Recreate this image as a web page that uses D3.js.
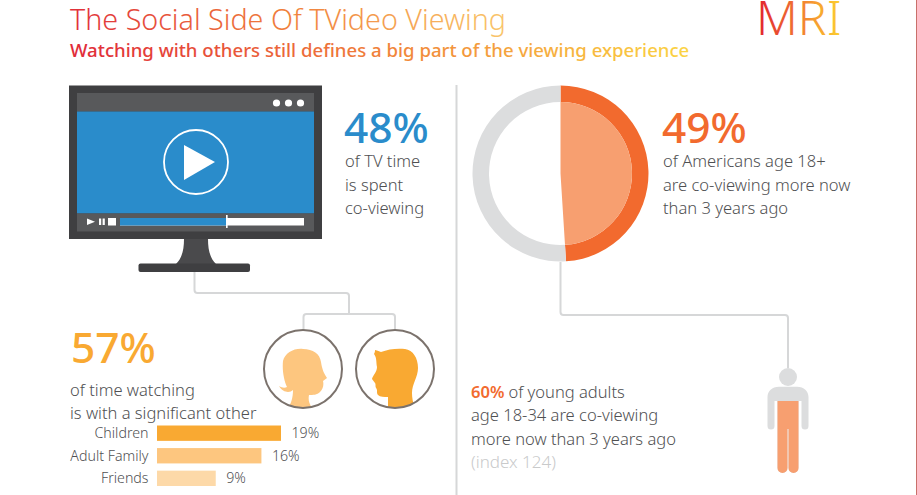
<!DOCTYPE html>
<html>
<head>
<meta charset="utf-8">
<script src="https://cdn.jsdelivr.net/npm/d3@7.9.0/dist/d3.min.js"></script>
<style>
html, body { margin: 0; padding: 0; background: #fff; }
svg { display: block; }
text { font-family: "Noto Sans", sans-serif; }
</style>
</head>
<body>
<script>
// values
const categories = ["Children", "Adult Family", "Friends"];
const shares = [19, 16, 9];
const barColors = ["#f9a932", "#fdc67f", "#fdd9a8"];
const tvTime = 48;
const significantOther = 57;
const coViewing = 49;
const youngAdults = 60;

const titleText = "The Social Side Of TVideo Viewing";
const subtitleText = "Watching with others still defines a big part of the viewing experience";
const tvLines = ["of TV time", "is spent", "co-viewing"];
const otherLines = ["of time watching", "is with a significant other"];
const americansLines = ["of Americans age 18+", "are co-viewing more now", "than 3 years ago"];
const youngLines = ["age 18-34 are co-viewing", "more now than 3 years ago"];

const grey = "#4f5052";
const line = "#d6d7d8";

let svg = d3.select("body")
    .append("svg")
    .attr("width", 917)
    .attr("height", 495);

let defs = svg.append("defs");

function addGradient(id, x1, x2, stops) {
    let g = defs.append("linearGradient")
        .attr("id", id)
        .attr("gradientUnits", "userSpaceOnUse")
        .attr("x1", x1).attr("x2", x2)
        .attr("y1", 0).attr("y2", 0);
    stops.forEach((s, i) => {
        g.append("stop")
            .attr("offset", i / (stops.length - 1))
            .attr("stop-color", s);
    });
}
addGradient("titleFill", 70, 506, ["#e0303a", "#f07f3c", "#f9c56b"]);
addGradient("subFill", 70, 690, ["#e02a38", "#f0813a", "#fbd444"]);
addGradient("logoFill", 759, 843, ["#e2262f", "#f27f32", "#fdd52f"]);

function label(x, y, txt, size, fill, weight) {
    return svg.append("text")
        .attr("x", x).attr("y", y)
        .attr("font-size", size)
        .attr("font-weight", weight || 400)
        .attr("fill", fill)
        .text(txt);
}

// heading
label(70, 30, titleText, 28.7, "url(#titleFill)", 300);
label(70, 57, subtitleText, 18.6, "url(#subFill)", 500);
label(756, 35, "MRI", 48, "url(#logoFill)", 300);

// connector lines and the divider
function connector(d) {
    svg.append("path")
        .attr("d", d)
        .attr("fill", "none")
        .attr("stroke", line)
        .attr("stroke-width", 2);
}
connector("M456.5,85V495");
connector("M194.5,272V290a3,3 0 0 0 3,3H346a3,3 0 0 1 3,3V313");
connector("M303.5,331V317a3,3 0 0 1 3,-3H392a3,3 0 0 1 3,3V331");
connector("M560.5,262V312a3,3 0 0 0 3,3H785a3,3 0 0 1 3,3V368");

// television
let tv = svg.append("g");
function box(x, y, w, h, fill, r) {
    return tv.append("rect")
        .attr("x", x).attr("y", y)
        .attr("width", w).attr("height", h)
        .attr("rx", r || 0)
        .attr("fill", fill);
}
tv.append("path")
    .attr("d", "M184,239H208C208,250 210,258 216,264H176C182,258 184,250 184,239Z")
    .attr("fill", "#4a4a4c");
box(138.5, 263.5, 111.5, 8.5, "#3f3f41", 2);
box(69, 85.5, 253, 153.5, "#3f3f41");
box(77, 93, 237, 18.5, "#58595b");
box(77, 111.5, 237, 102, "#2a8ccb");
box(77, 213.5, 237, 18, "#58595b");
[276.5, 288.5, 300.5].forEach(cx => {
    tv.append("circle").attr("cx", cx).attr("cy", 103).attr("r", 3.6).attr("fill", "#fff");
});
tv.append("circle")
    .attr("cx", 196).attr("cy", 162).attr("r", 32)
    .attr("fill", "none").attr("stroke", "#fff").attr("stroke-width", 1.8);
tv.append("path").attr("d", "M184,145L215,162L184,180Z").attr("fill", "#fff");
tv.append("path").attr("d", "M87,218.5L95,221.7L87,225Z").attr("fill", "#fff");
box(99, 218.5, 2.2, 6.5, "#fff");
box(102.6, 218.5, 2.2, 6.5, "#fff");
box(108, 218, 8, 7.5, "#fff");

let progress = d3.scaleLinear().domain([0, 100]).range([120, 304]);
box(progress(0), 218, progress(100) - progress(0), 7.5, "#fff");
box(progress(0), 218, progress(58) - progress(0), 7.5, "#2a8ccb");
box(progress(58) - 0.7, 215, 1.6, 13, "#fff");

// text blocks
function block(x, lines, firstY, step) {
    lines.forEach((t, i) => {
        label(x, firstY + i * step, t, 16.55, grey, 300);
    });
}
label(344, 143, tvTime + "%", 42.5, "#2a8ccb", 500);
block(345, tvLines, 167, 23.5);

label(71, 362.5, significantOther + "%", 42.5, "#f9a932", 500);
block(70, otherLines, 395.5, 23.5);

label(662, 143, coViewing + "%", 42.5, "#f26a2e", 500);
block(663, americansLines, 167, 23.5);

let young = label(471, 397.5, youngAdults + "%", 16.55, "#f26a2e", 600);
young.append("tspan")
    .attr("dx", 4)
    .attr("fill", grey)
    .attr("font-weight", 300)
    .text("of young adults");
block(471, youngLines, 421, 23.5);
label(471, 468, "(index 124)", 17, "#c9cacb", 300);

// share bars
let x = d3.scaleLinear().domain([0, 19]).range([157, 281]);
let y = d3.scaleBand()
    .domain(categories)
    .range([425.5, 486])
    .paddingInner(0.32)
    .paddingOuter(0);

svg.append("g")
    .selectAll("rect")
    .data(shares)
    .join("rect")
    .attr("x", x(0))
    .attr("y", (d, i) => y(categories[i]))
    .attr("width", d => x(d) - x(0))
    .attr("height", y.bandwidth())
    .attr("fill", (d, i) => barColors[i]);

svg.append("g")
    .selectAll("text")
    .data(categories)
    .join("text")
    .attr("x", 148.5)
    .attr("y", d => y(d) + y.bandwidth() / 2 + 5)
    .attr("text-anchor", "end")
    .attr("font-size", 14.2)
    .attr("font-weight", 300)
    .attr("fill", grey)
    .text(d => d);

svg.append("g")
    .selectAll("text")
    .data(shares)
    .join("text")
    .attr("x", d => x(d) + 10.5)
    .attr("y", (d, i) => y(categories[i]) + y.bandwidth() / 2 + 5)
    .attr("font-size", 14.2)
    .attr("font-weight", 300)
    .attr("fill", grey)
    .text(d => d + "%");

// heads
function head(id, cx, d, fill) {
    defs.append("clipPath").attr("id", id)
        .append("circle").attr("cx", cx).attr("cy", 369).attr("r", 39);
    svg.append("path")
        .attr("d", d)
        .attr("fill", fill)
        .attr("clip-path", "url(#" + id + ")");
    svg.append("circle")
        .attr("cx", cx).attr("cy", 369).attr("r", 39)
        .attr("fill", "none")
        .attr("stroke", "#7b726c")
        .attr("stroke-width", 2);
}
head("herClip", 303,
    "M288,410C290,404 293,400 293,390C290,393 283,393 279,386C282,388 285,388 287,387C284,381 282,370 283,361C285,353 294,348 303,349C313,349 320,354 321,362C322,368 323,372 327,378L323,381C324,385 323,389 320,392C317,395 313,395 309,395C308,400 309,405 314,410Z",
    "#fdc67f");
head("hisClip", 395,
    "M388,410V397C384,397 380,397 378,395C376,393 378,390 376,388C375,386 376,384 375,383L372,379C373,375 377,372 377,367C376,362 377,358 374,354C375,352 375,351 375,350C378,351 379,351 381,352C388,349 398,348 405,349C413,350 418,358 418,368C418,377 412,384 412,393C412,398 413,404 416,410Z",
    "#f9a932");

// donut
let pie = d3.pie().sort(null).value(d => d);
let slices = pie([coViewing, 100 - coViewing]);
let ringOuter = d3.arc().innerRadius(71.5).outerRadius(88);
let fullInner = d3.arc().innerRadius(0).outerRadius(71.5);

let donut = svg.append("g").attr("transform", "translate(560.5,173.5)");
donut.selectAll("path.ring")
    .data(slices)
    .join("path")
    .attr("class", "ring")
    .attr("d", ringOuter)
    .attr("fill", (d, i) => i === 0 ? "#f26a2e" : "#dcddde");
donut.append("path")
    .attr("d", fullInner(slices[0]))
    .attr("fill", "#f79f70");

// person, orange up to the share of young adults
const personShape = "M779,386.7H797C804,386.7 808.5,391 808.5,397V426a3.5,3.5 0 0 1 -7,0V401H798.5V468a5,5 0 0 1 -10,0V429H787.5V468a5,5 0 0 1 -10,0V401H774.5V426a3.5,3.5 0 0 1 -7,0V397C767.5,391 772,386.7 779,386.7Z";
let personY = d3.scaleLinear().domain([0, 100]).range([473, 353]);

svg.append("circle").attr("cx", 788).attr("cy", 377).attr("r", 9).attr("fill", "#dcddde");
svg.append("path").attr("d", personShape).attr("fill", "#dcddde");
defs.append("clipPath").attr("id", "personClip")
    .append("rect")
    .attr("x", 776.5)
    .attr("y", personY(youngAdults))
    .attr("width", 22.5)
    .attr("height", personY(0) - personY(youngAdults));
svg.append("path")
    .attr("d", personShape)
    .attr("fill", "#f79f70")
    .attr("clip-path", "url(#personClip)");

// faint edge on the right of the source image
svg.append("rect")
    .attr("x", 916).attr("y", 0)
    .attr("width", 1).attr("height", 495)
    .attr("fill", "#c9706a");
</script>
</body>
</html>
